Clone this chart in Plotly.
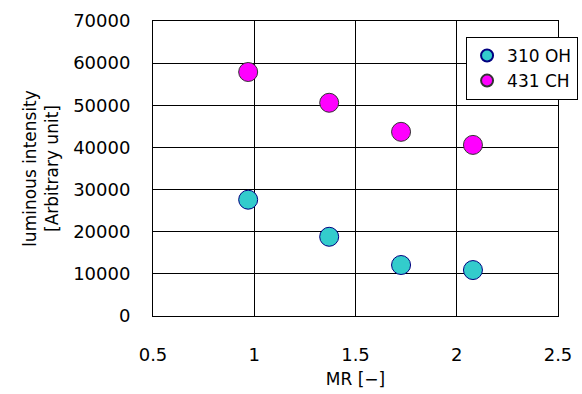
import plotly.graph_objects as go

mr = [0.97, 1.37, 1.725, 2.08]
oh_310 = [27600, 18800, 12100, 10900]
ch_431 = [57900, 50600, 43700, 40600]
x_ticks = [0.5, 1, 1.5, 2, 2.5]
x_tick_labels = ["0.5", "1", "1.5", "2", "2.5"]

fig = go.Figure()
fig.add_trace(go.Scatter(x=mr, y=oh_310, mode="markers", name="310 OH",
                         marker=dict(size=19, color="#33CCCC", line=dict(color="#000080", width=1))))
fig.add_trace(go.Scatter(x=mr, y=ch_431, mode="markers", name="431 CH",
                         marker=dict(size=19, color="#FF00FF", line=dict(color="#333333", width=1))))

font = dict(family="DejaVu Sans, sans-serif", size=18, color="black")
fig.update_layout(
    width=582, height=394, margin=dict(l=153, r=24, t=21, b=78, autoexpand=False),
    plot_bgcolor="white", paper_bgcolor="white", font=font,
    legend=dict(x=0.773, y=0.946, xanchor="left", yanchor="top",
                bordercolor="black", borderwidth=1, bgcolor="white",
                font=dict(size=17), itemsizing="constant", itemwidth=30,
                tracegroupgap=0),
    xaxis=dict(range=[0.5, 2.5], tickvals=x_ticks, ticktext=x_tick_labels,
               showgrid=True, gridcolor="black", gridwidth=1,
               showline=True, linecolor="black", linewidth=1, mirror=True,
               ticks="", zeroline=False, ticklabelstandoff=22,
               tickfont=dict(size=18),
               title=dict(text="MR [\u2212]", standoff=9, font=dict(size=17))),
    yaxis=dict(range=[0, 70000], dtick=10000, tickformat="d",
               showgrid=True, gridcolor="black", gridwidth=1,
               showline=True, linecolor="black", linewidth=1, mirror=True,
               ticks="", zeroline=False, ticklabelstandoff=18,
               tickfont=dict(size=18),
               title=dict(text="luminous intensity<br>[Arbitrary unit]", standoff=10, font=dict(size=17))),
)
fig.write_html("out.html", config={"displayModeBar": False},
               post_script="document.body.style.margin='0';")
